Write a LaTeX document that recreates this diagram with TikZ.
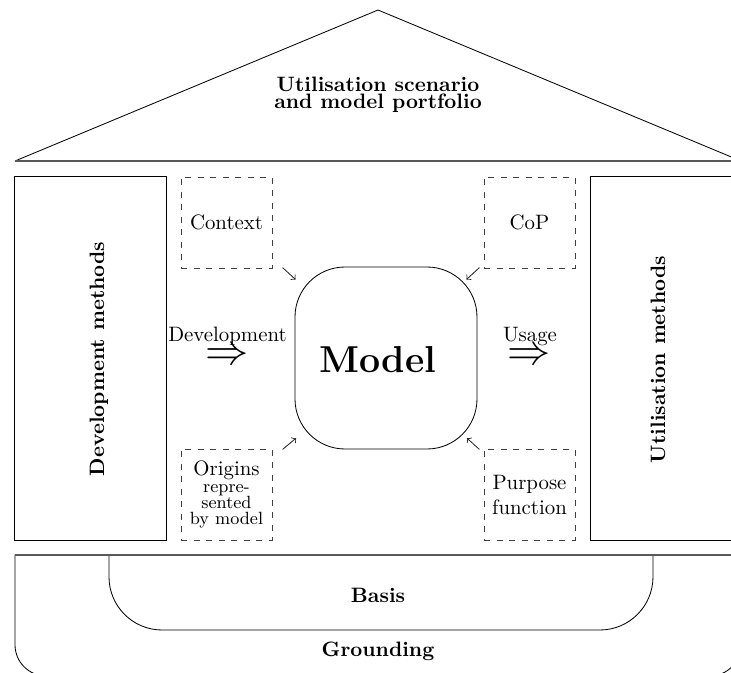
\documentclass[tikz,border=0pt]{standalone}
\usetikzlibrary{calc}
\begin{document}
\begin{tikzpicture}[x=0.48pt, y=-0.48pt,
  pillar/.style={draw, rectangle, inner sep=0pt,
    minimum width=152*0.48pt, minimum height=364*0.48pt},
  aspect/.style={draw=black!75, dashed, rectangle, inner sep=0pt,
    minimum size=91*0.48pt, align=center},
  core/.style={draw, rectangle, rounded corners=24pt, inner sep=0pt,
    minimum size=182*0.48pt},
  floorline/.style={draw=black!65, line width=0.8pt},
  influence/.style={->, black!85},
  bftext/.style={font=\bfseries, anchor=base},
  flow/.style={font=\huge, inner sep=0pt}
]
\useasboundingbox (0,0) rectangle (731,673);
\clip (0,0) rectangle (731,673);

% roof
\draw (15,161) -- (378,10) -- (741,161);
\draw[floorline] (15,161) -- (741,161);
\node[font=\bfseries\fontsize{10}{8.4}\selectfont, align=center] (roof)
  at (378,94.6) {Utilisation scenario\\and model portfolio};

% pillars
\node[pillar] (devmethods) at (90,358) {};
\node[pillar] (usemethods) at (666,358) {};
\node[bftext, rotate=90] (devtitle) at (104,359) {Development methods};
\node[bftext, rotate=90] (usetitle) at (665,359.5) {Utilisation methods};

% aspects around the model
\node[aspect] (context) at (226.5,222.5) {Context};
\node[aspect] (cop) at (529.5,222.5) {CoP};
\node[aspect, font=\fontsize{8.5}{7.7}\selectfont] (origins) at (226.5,494.5)
  {{\normalsize Origins}\\repre-\\sented\\by model};
\node[aspect] (purpose) at (529.5,494.5) {Purpose\\function};

% model
\node[core] (model) at (386,358) {};
\node[font=\fontsize{18}{21.6}\selectfont\bfseries, anchor=base] (modeltext)
  at (378,372) {Model};

\draw[influence] ($(model.north west)+(-12,1)$) -- ($(model.north west)+(1,13)$);
\draw[influence] ($(model.north east)+(2,1)$) -- ($(model.north east)+(-11,13)$);
\draw[influence] ($(model.south west)+(-12,0)$) -- ($(model.south west)+(1.5,-11.3)$);
\draw[influence] ($(model.south east)+(2,0)$) -- ($(model.south east)+(-10.5,-11.3)$);

% development and usage
\node[anchor=base] (devlabel) at (227.5,341) {Development};
\node[flow] (devflow) at (227,357) {$\Rightarrow$};
\node[anchor=base] (uselabel) at (530,341) {Usage};
\node[flow] (useflow) at (529,357) {$\Rightarrow$};

% foundation
\draw (15,600) -- (15,555) -- (741,555) -- (741,600)
  [rounded corners=15pt] -- (741,676) -- (15,676) -- (15,600);
\draw[rounded corners=25.5pt] (109,555) -- (109,630) -- (653,630) -- (653,555);
\draw[floorline] (15,555) -- (741,555);
\node[bftext] (basis) at (378,602) {Basis};
\node[bftext] (grounding) at (378,656) {Grounding};
\end{tikzpicture}
\end{document}
